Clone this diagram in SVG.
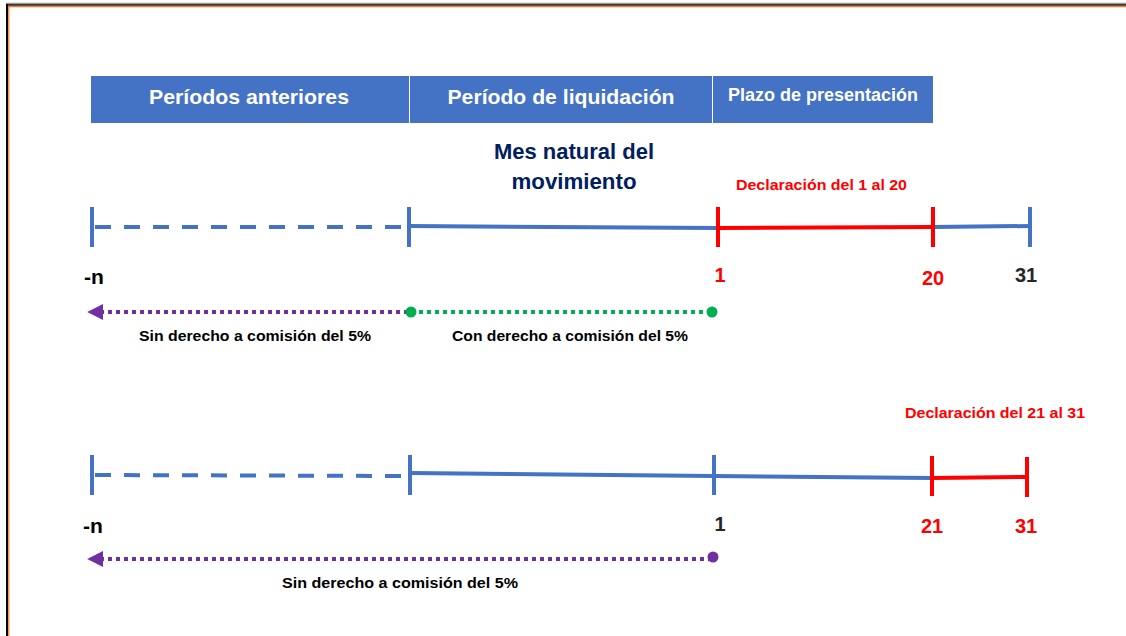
<svg xmlns="http://www.w3.org/2000/svg" width="1126" height="636" viewBox="0 0 1126 636">
<style>
text{font-family:"Liberation Sans",Arial,sans-serif;font-weight:bold}
.hdr{fill:#fff;font-size:21px;text-anchor:middle}
.blue{stroke:#4472C4;stroke-width:4;fill:none}
.red{stroke:#FF0000;stroke-width:4;fill:none}
.dash{stroke:#4472C4;stroke-width:4;fill:none;stroke-dasharray:16 13}
.pur{stroke:#7030A0;stroke-width:4;fill:none;stroke-dasharray:4 4}
.grn{stroke:#00B050;stroke-width:4;fill:none;stroke-dasharray:4 4}
.lbl{font-size:15.5px;fill:#000;text-anchor:middle}
.num{font-size:20px;text-anchor:middle}
.rt{fill:#FF0000}
</style>
<defs>
<marker id="ap" viewBox="0 0 10 10" refX="2" refY="5" markerWidth="4" markerHeight="4" orient="auto-start-reverse"><path d="M0,0 L10,5 L0,10 z" fill="#7030A0"/></marker>
</defs>
<rect width="1126" height="636" fill="#fff"/>
<g id="frame">
<line x1="6" y1="3.5" x2="1126" y2="3.5" stroke="#999" stroke-width="1.5"/>
<line x1="6" y1="5" x2="1126" y2="5" stroke="#000" stroke-width="1.5"/>
<line x1="8" y1="6.5" x2="1126" y2="6.5" stroke="#ED7D31" stroke-width="1.5"/>
<line x1="7" y1="4" x2="7" y2="636" stroke="#000" stroke-width="2"/>
<line x1="8.8" y1="6" x2="8.8" y2="636" stroke="#ED7D31" stroke-width="1.2"/>
</g>
<g id="header">
<rect x="91" y="76" width="318" height="47" fill="#4472C4"/>
<rect x="410" y="76" width="302" height="47" fill="#4472C4"/>
<rect x="713" y="76" width="220" height="47" fill="#4472C4"/>
<text class="hdr" x="249" y="104" textLength="200" lengthAdjust="spacingAndGlyphs">Períodos anteriores</text>
<text class="hdr" x="561" y="104" textLength="227" lengthAdjust="spacingAndGlyphs">Período de liquidación</text>
<text class="hdr" x="823" y="101" style="font-size:18px" textLength="190" lengthAdjust="spacingAndGlyphs">Plazo de presentación</text>
</g>
<g id="mes">
<text x="574" y="159" style="font-size:22px;fill:#002060;text-anchor:middle" textLength="160" lengthAdjust="spacingAndGlyphs">Mes natural del</text>
<text x="574" y="189" style="font-size:22px;fill:#002060;text-anchor:middle" textLength="125" lengthAdjust="spacingAndGlyphs">movimiento</text>
</g>
<g id="timeline1">
<line class="blue" x1="92" y1="207" x2="92" y2="247"/>
<line class="dash" x1="95" y1="227" x2="405" y2="227"/>
<line class="blue" x1="409" y1="207" x2="409" y2="247"/>
<line class="blue" x1="409" y1="226" x2="718" y2="228"/>
<line class="blue" x1="933" y1="227" x2="1030" y2="226"/>
<line class="blue" x1="1030" y1="207" x2="1030" y2="247"/>
<line class="red" x1="718" y1="228" x2="933" y2="227"/>
<line class="red" x1="718" y1="207" x2="718" y2="247"/>
<line class="red" x1="933" y1="207" x2="933" y2="247"/>
<text x="736" y="190" class="rt" style="font-size:15.5px" textLength="171" lengthAdjust="spacingAndGlyphs">Declaración del 1 al 20</text>
<text class="num" x="94" y="284" fill="#000" style="font-size:21px">-n</text>
<text class="num rt" x="720" y="282">1</text>
<text class="num rt" x="933" y="285">20</text>
<text class="num" x="1026" y="282" fill="#262626">31</text>
</g>
<g id="timeline2">
<line class="blue" x1="92" y1="455" x2="92" y2="495"/>
<line class="dash" x1="95" y1="475" x2="405" y2="476"/>
<line class="blue" x1="410" y1="455" x2="410" y2="495"/>
<line class="blue" x1="410" y1="473" x2="714" y2="476"/>
<line class="blue" x1="714" y1="455" x2="714" y2="495"/>
<line class="blue" x1="714" y1="476" x2="932" y2="478"/>
<line class="red" x1="932" y1="478" x2="1027" y2="477"/>
<line class="red" x1="932" y1="456" x2="932" y2="496"/>
<line class="red" x1="1027" y1="457" x2="1027" y2="497"/>
<text x="995" y="418" class="rt" style="font-size:15.5px;text-anchor:middle" textLength="180" lengthAdjust="spacingAndGlyphs">Declaración del 21 al 31</text>
<text class="num" x="83" y="533" fill="#000" style="text-anchor:start;font-size:21px">-n</text>
<text class="num" x="720" y="531" fill="#262626">1</text>
<text class="num rt" x="932" y="533">21</text>
<text class="num rt" x="1026" y="533">31</text>
</g>
<g id="connectors">
<line class="pur" x1="408" y1="312" x2="100" y2="312" marker-end="url(#ap)"/>
<line class="grn" x1="411" y1="312" x2="712" y2="312"/>
<circle cx="411" cy="312" r="5.5" fill="#00B050"/>
<circle cx="712" cy="312" r="5.5" fill="#00B050"/>
<line class="pur" x1="712" y1="559" x2="100" y2="559" marker-end="url(#ap)"/>
<circle cx="713" cy="557" r="5.5" fill="#7030A0"/>
</g>
<g id="labels">
<text class="lbl" x="255" y="341" textLength="232" lengthAdjust="spacingAndGlyphs">Sin derecho a comisión del 5%</text>
<text class="lbl" x="570" y="341" textLength="236" lengthAdjust="spacingAndGlyphs">Con derecho a comisión del 5%</text>
<text class="lbl" x="400" y="588" textLength="236" lengthAdjust="spacingAndGlyphs">Sin derecho a comisión del 5%</text>
</g>
</svg>
